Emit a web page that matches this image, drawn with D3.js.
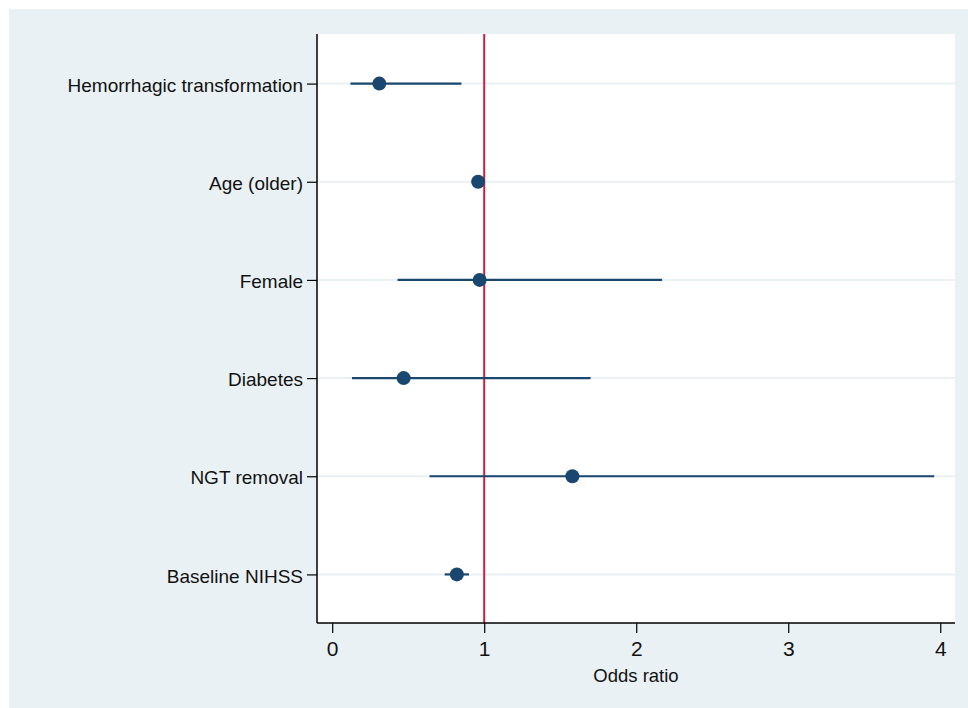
<!DOCTYPE html>
<html>
<head>
<meta charset="utf-8">
<script src="https://cdn.jsdelivr.net/npm/d3@7"></script>
<style>
  html, body { margin: 0; padding: 0; background: #ffffff; }
  svg { display: block; font-family: "Liberation Sans", Arial, Helvetica, sans-serif; }
</style>
</head>
<body>
<svg id="chart" width="968" height="708"></svg>
<script>
const categories = ["Hemorrhagic transformation", "Age (older)", "Female", "Diabetes", "NGT removal", "Baseline NIHSS"];
const oddsRatio = [0.31, 0.96, 0.97, 0.47, 1.58, 0.82];
const ciLower   = [0.12, 0.93, 0.43, 0.13, 0.64, 0.74];
const ciUpper   = [0.85, 0.99, 2.17, 1.70, 3.96, 0.90];
const xTicks = [0, 1, 2, 3, 4];
const xTitle = "Odds ratio";
const refValue = 1;

const W = 968, H = 708;
const plot = { left: 317, right: 955, top: 34, bottom: 623 };

const svg = d3.select("#chart");

// outer graph region
svg.append("rect").attr("x", 9).attr("y", 9).attr("width", W - 9).attr("height", H - 9).attr("fill", "#eaf1f4");
// plot region
svg.append("rect").attr("x", plot.left).attr("y", plot.top)
  .attr("width", plot.right - plot.left).attr("height", plot.bottom - plot.top).attr("fill", "#ffffff");

const x = d3.scaleLinear().domain([-0.1, 4.097]).range([plot.left, plot.right]);
const y = d3.scalePoint().domain(categories).range([plot.top, plot.bottom]).padding(0.5);

// gridlines
svg.append("g").selectAll("line").data(categories).join("line")
  .attr("x1", plot.left).attr("x2", plot.right)
  .attr("y1", d => y(d) + 0.5).attr("y2", d => y(d) + 0.5)
  .attr("stroke", "#eaf1f4").attr("stroke-width", 2);

// reference line
svg.append("line")
  .attr("x1", x(refValue)).attr("x2", x(refValue))
  .attr("y1", plot.top).attr("y2", plot.bottom)
  .attr("stroke", "#cf1d3c").attr("stroke-width", 2);

const rows = categories.map((c, i) => ({ c, or: oddsRatio[i], lo: ciLower[i], hi: ciUpper[i] }));

// CI lines
svg.append("g").selectAll("line").data(rows).join("line")
  .attr("x1", d => x(d.lo)).attr("x2", d => x(d.hi))
  .attr("y1", d => y(d.c) + 0.5).attr("y2", d => y(d.c) + 0.5)
  .attr("stroke", "#1a476f").attr("stroke-width", 2.2);

// points
svg.append("g").selectAll("circle").data(rows).join("circle")
  .attr("cx", d => x(d.or)).attr("cy", d => y(d.c) + 0.5).attr("r", 7)
  .attr("fill", "#1a476f");

// y axis
const yAxis = d3.axisLeft(y).tickSize(10).tickPadding(4);
const gy = svg.append("g").attr("transform", `translate(${plot.left},0.5)`).call(yAxis);
gy.select(".domain").remove();
gy.append("line").attr("x1", 0).attr("x2", 0).attr("y1", plot.top - 0.5).attr("y2", plot.bottom - 0.5)
  .attr("stroke", "#000").attr("stroke-width", 1.5);
gy.selectAll(".tick line").attr("stroke", "#000").attr("stroke-width", 1.2);
gy.selectAll(".tick text").attr("fill", "#111").attr("font-size", "19px").attr("dy", "0.4em")
  .attr("font-family", "'Liberation Sans', Arial, sans-serif");

// x axis
const xAxis = d3.axisBottom(x).tickValues(xTicks).tickSize(10).tickPadding(8).tickFormat(d3.format("d"));
const gx = svg.append("g").attr("transform", `translate(0,${plot.bottom})`).call(xAxis);
gx.select(".domain").remove();
gx.append("line").attr("x1", plot.left).attr("x2", plot.right).attr("y1", 0).attr("y2", 0)
  .attr("stroke", "#000").attr("stroke-width", 1.5);
gx.selectAll(".tick line").attr("stroke", "#000").attr("stroke-width", 1.2);
gx.selectAll(".tick text").attr("fill", "#111").attr("font-size", "21px")
  .attr("font-family", "'Liberation Sans', Arial, sans-serif");

// x title
svg.append("text").attr("x", (plot.left + plot.right) / 2).attr("y", 682)
  .attr("text-anchor", "middle").attr("font-size", "18.5px").attr("fill", "#111")
  .text(xTitle);
</script>
</body>
</html>
